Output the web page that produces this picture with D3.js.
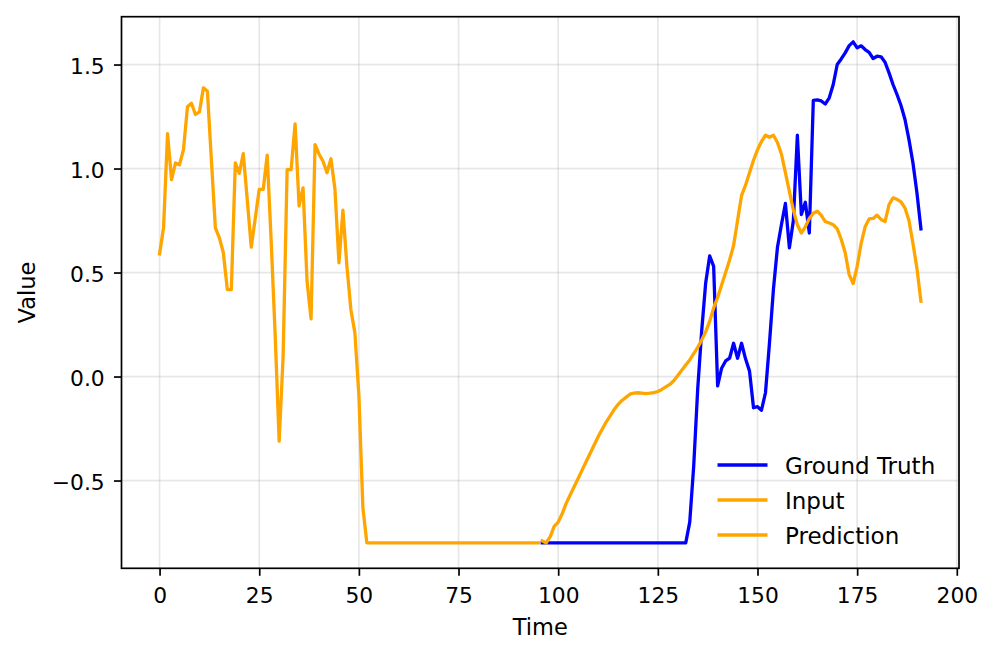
<!DOCTYPE html>
<html>
<head>
<meta charset="utf-8">
<script src="https://cdn.jsdelivr.net/npm/d3@7"></script>
<style>
  body { margin: 0; background: #ffffff; }
  svg { display: block; }
  text { font-family: "DejaVu Sans", sans-serif; fill: #000; }
</style>
</head>
<body>
<svg id="chart" width="996" height="657"></svg>
<script>
// ---------------- data ----------------
const inputStart = 0;
const forecastStart = 96;

const inputValues = [
  0.59, 0.715, 1.168, 0.947, 1.027, 1.018, 1.091, 1.297, 1.314, 1.26,
  1.272, 1.388, 1.372, 1.04, 0.715, 0.667, 0.595, 0.418, 0.418, 1.027,
  0.976, 1.072, 0.85, 0.622, 0.76, 0.9, 0.9, 1.064, 0.65, 0.2,
  -0.311, 0.1, 0.995, 0.995, 1.215, 0.82, 0.907, 0.458, 0.277, 1.115,
  1.07, 1.035, 0.98, 1.047, 0.9, 0.547, 0.8, 0.53, 0.32, 0.21,
  -0.09, -0.63, -0.80, -0.80, -0.80, -0.80, -0.80, -0.80, -0.80, -0.80,
  -0.80, -0.80, -0.80, -0.80, -0.80, -0.80, -0.80, -0.80, -0.80, -0.80,
  -0.80, -0.80, -0.80, -0.80, -0.80, -0.80, -0.80, -0.80, -0.80, -0.80,
  -0.80, -0.80, -0.80, -0.80, -0.80, -0.80, -0.80, -0.80, -0.80, -0.80,
  -0.80, -0.80, -0.80, -0.80, -0.80, -0.80
];

const groundTruthValues = [
  -0.80, -0.80, -0.80, -0.80, -0.80, -0.80, -0.80, -0.80, -0.80, -0.80,
  -0.80, -0.80, -0.80, -0.80, -0.80, -0.80, -0.80, -0.80, -0.80, -0.80,
  -0.80, -0.80, -0.80, -0.80, -0.80, -0.80, -0.80, -0.80, -0.80, -0.80,
  -0.80, -0.80, -0.80, -0.80, -0.80, -0.80, -0.80,
  -0.70, -0.43, -0.06, 0.22, 0.45, 0.58, 0.53, -0.045, 0.04, 0.075,
  0.088, 0.16, 0.088, 0.16, 0.085, 0.026, -0.15, -0.145, -0.162, -0.078,
  0.16, 0.42, 0.62, 0.73, 0.832, 0.619, 0.75, 1.16, 0.779, 0.838,
  0.69, 1.328, 1.33, 1.325, 1.31, 1.34, 1.404, 1.5, 1.527, 1.556,
  1.591, 1.609, 1.58, 1.59, 1.572, 1.559, 1.529, 1.54, 1.537, 1.511,
  1.46, 1.404, 1.356, 1.303, 1.236, 1.139, 1.027, 0.883, 0.71
];

const predictionValues = [
  -0.79, -0.80, -0.77, -0.72, -0.70, -0.66, -0.61, -0.57, -0.53, -0.49,
  -0.45, -0.41, -0.37, -0.33, -0.29, -0.255, -0.22, -0.19, -0.16, -0.135,
  -0.115, -0.10, -0.085, -0.08, -0.078, -0.08, -0.082, -0.08, -0.077, -0.072,
  -0.062, -0.05, -0.038, -0.02, 0.005, 0.03, 0.055, 0.08, 0.11, 0.14,
  0.175, 0.215, 0.265, 0.33, 0.38, 0.44, 0.50, 0.56, 0.63, 0.75,
  0.87, 0.92, 0.98, 1.04, 1.09, 1.13, 1.16, 1.15, 1.16, 1.125,
  1.07, 0.98, 0.89, 0.80, 0.73, 0.69, 0.72, 0.76, 0.785, 0.795,
  0.775, 0.745, 0.738, 0.73, 0.71, 0.66, 0.595, 0.49, 0.447, 0.53,
  0.64, 0.72, 0.758, 0.76, 0.776, 0.755, 0.745, 0.827, 0.859, 0.852,
  0.84, 0.81, 0.75, 0.64, 0.52, 0.362
];

const xTickValues = [0, 25, 50, 75, 100, 125, 150, 175, 200];
const yTickValues = [-0.5, 0.0, 0.5, 1.0, 1.5];
const seriesNames = ["Ground Truth", "Input", "Prediction"];
const xLabel = "Time";
const yLabel = "Value";

// ---------------- styles / layout ----------------
const colors = { "Ground Truth": "#0000ff", "Input": "#ffa500", "Prediction": "#ffa500" };
const plot = { left: 121.5, right: 959, top: 16.7, bottom: 568.3 };
const xDomain = [-9.55, 200.55];
const yDomain = [-0.922, 1.730];
const lineWidth = 3.3;

const toPoints = (vals, start) => vals.map((v, i) => ({ t: start + i, v: v }));
const series = [
  { name: "Ground Truth", pts: toPoints(groundTruthValues, forecastStart) },
  { name: "Input", pts: toPoints(inputValues, inputStart) },
  { name: "Prediction", pts: toPoints(predictionValues, forecastStart) }
];

const svg = d3.select("#chart");
svg.append("rect").attr("width", 996).attr("height", 657).attr("fill", "#fff");

const x = d3.scaleLinear().domain(xDomain).range([plot.left, plot.right]);
const y = d3.scaleLinear().domain(yDomain).range([plot.bottom, plot.top]);

// grid
const grid = svg.append("g").attr("stroke", "#b0b0b0").attr("stroke-opacity", 0.3).attr("stroke-width", 1.7);
grid.selectAll("line.gx").data(xTickValues).join("line")
  .attr("x1", d => x(d)).attr("x2", d => x(d))
  .attr("y1", plot.top).attr("y2", plot.bottom);
grid.selectAll("line.gy").data(yTickValues).join("line")
  .attr("x1", plot.left).attr("x2", plot.right)
  .attr("y1", d => y(d)).attr("y2", d => y(d));

// lines
const line = d3.line().x(d => x(d.t)).y(d => y(d.v));
svg.append("g").selectAll("path").data(series).join("path")
  .attr("d", d => line(d.pts))
  .attr("fill", "none")
  .attr("stroke", d => colors[d.name])
  .attr("stroke-width", lineWidth)
  .attr("stroke-linejoin", "round")
  .attr("stroke-linecap", "square");

// axes
const tickFont = 21.8;
const fmtY = d3.format(".1f");
const xAxis = d3.axisBottom(x).tickValues(xTickValues).tickSize(7.5).tickPadding(11.3).tickFormat(d3.format("d"));
const yAxis = d3.axisLeft(y).tickValues(yTickValues).tickSize(7.5).tickPadding(9.3).tickFormat(fmtY);

const gx = svg.append("g").attr("transform", `translate(0,${plot.bottom})`).call(xAxis);
const gy = svg.append("g").attr("transform", `translate(${plot.left},0)`).call(yAxis);
[gx, gy].forEach(g => {
  g.select(".domain").remove();
  g.selectAll(".tick line").attr("stroke", "#000").attr("stroke-width", 1.7);
  g.selectAll(".tick text").attr("font-size", tickFont).attr("font-family", "DejaVu Sans").attr("fill", "#000");
});
gy.selectAll(".tick text").attr("dy", "0.4em");

// spines
svg.append("rect")
  .attr("x", plot.left).attr("y", plot.top)
  .attr("width", plot.right - plot.left).attr("height", plot.bottom - plot.top)
  .attr("fill", "none").attr("stroke", "#000").attr("stroke-width", 1.7);

// axis labels
svg.append("text")
  .attr("x", (plot.left + plot.right) / 2).attr("y", 635)
  .attr("text-anchor", "middle").attr("font-size", 22.5)
  .text(xLabel);
svg.append("text")
  .attr("transform", `translate(35,${(plot.top + plot.bottom) / 2}) rotate(-90)`)
  .attr("text-anchor", "middle").attr("font-size", 22.5)
  .text(yLabel);

// legend (no frame)
const legend = svg.append("g").attr("transform", "translate(717.5,465)");
const rows = legend.selectAll("g").data(seriesNames).join("g")
  .attr("transform", (d, i) => `translate(0,${i * 35})`);
rows.append("line")
  .attr("x1", 0).attr("x2", 50).attr("y1", 0).attr("y2", 0)
  .attr("stroke", d => colors[d]).attr("stroke-width", lineWidth);
rows.append("text")
  .attr("x", 67.5).attr("y", 8.7)
  .attr("font-size", 23)
  .text(d => d);
</script>
</body>
</html>
